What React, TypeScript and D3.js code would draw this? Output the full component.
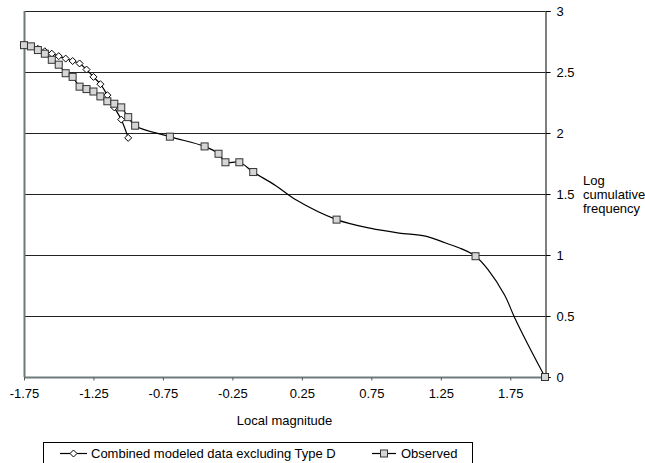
import { useEffect, useRef } from "react"
import * as d3 from "d3"

// Observed (square markers)
const observedMag = [
  -1.75, -1.7, -1.65, -1.6, -1.55, -1.5, -1.45, -1.4, -1.35, -1.3, -1.25, -1.2, -1.15, -1.1, -1.05, -1.0, -0.95,
  -0.7, -0.45, -0.35, -0.3, -0.2, -0.1, 0.5, 1.5, 2.0,
]
const observedFreq = [
  2.72, 2.71, 2.68, 2.65, 2.6, 2.56, 2.49, 2.46, 2.38, 2.36, 2.34, 2.3, 2.26, 2.24, 2.21, 2.13, 2.06, 1.97, 1.89,
  1.83, 1.76, 1.76, 1.68, 1.29, 0.99, 0,
]

// extra unmarked vertices of the smoothed observed line
const traceMag = [0.06, 0.21, 0.74, 0.95, 1.14, 1.28, 1.4, 1.59, 1.71, 1.78, 1.88]
const traceFreq = [1.57, 1.45, 1.22, 1.18, 1.155, 1.1, 1.05, 0.88, 0.67, 0.49, 0.26]

// Combined modeled data excluding Type D (diamond markers)
const modeledMag = [-1.75, -1.7, -1.65, -1.6, -1.55, -1.5, -1.45, -1.4, -1.35, -1.3, -1.25, -1.2, -1.15, -1.1, -1.05, -1.0]
const modeledFreq = [2.72, 2.71, 2.69, 2.67, 2.65, 2.63, 2.61, 2.59, 2.57, 2.52, 2.46, 2.4, 2.31, 2.21, 2.11, 1.96]

const xTicks = [-1.75, -1.25, -0.75, -0.25, 0.25, 0.75, 1.25, 1.75]
const yTicks = [0, 0.5, 1, 1.5, 2, 2.5, 3]
const yTitle = ["Log", "cumulative", "frequency"]
const seriesNames = ["Combined modeled data excluding Type D", "Observed"]

const font = "'Liberation Sans', Arial, sans-serif"

export default function App() {
  const svgRef = useRef<SVGSVGElement>(null)

  useEffect(() => {
    if (!svgRef.current) return
    const svg = d3.select(svgRef.current)
    svg.selectAll("*").remove()

    const left = 24
    const right = 545
    const top = 11
    const bottom = 377

    const x = d3.scaleLinear().domain([-1.75, 2.0]).range([left, right])
    const y = d3.scaleLinear().domain([0, 3]).range([bottom, top])

    // gridlines
    svg
      .append("g")
      .selectAll("line")
      .data(yTicks.filter((d) => d > 0))
      .enter()
      .append("line")
      .attr("x1", left)
      .attr("x2", right)
      .attr("y1", (d) => Math.round(y(d)) + 0.5)
      .attr("y2", (d) => Math.round(y(d)) + 0.5)
      .attr("stroke", "#222")
      .attr("stroke-width", 1)

    // left axis line (gray)
    svg
      .append("line")
      .attr("x1", left + 0.5)
      .attr("x2", left + 0.5)
      .attr("y1", top)
      .attr("y2", bottom)
      .attr("stroke", "#6f7b7b")
      .attr("stroke-width", 2)

    // bottom axis
    const xAxis = svg
      .append("g")
      .attr("transform", `translate(0,${bottom + 0.5})`)
      .call(d3.axisBottom(x).tickValues(xTicks).tickSize(3).tickFormat((d) => String(d)))
    xAxis.select(".domain").attr("stroke", "#6f7b7b").attr("stroke-width", 2).attr("d", `M${left},0H${right}`)
    xAxis.selectAll(".tick line").attr("stroke", "#555")
    xAxis
      .selectAll("text")
      .attr("dy", "1.1em")
      .style("font-size", "13px")
      .style("font-family", font)
      .attr("fill", "#000")

    // right axis
    const yAxis = svg
      .append("g")
      .attr("transform", `translate(${right + 0.5},0)`)
      .call(d3.axisRight(y).tickValues(yTicks).tickSize(5).tickPadding(6).tickFormat((d) => String(d)))
    yAxis.select(".domain").attr("stroke", "#000")
    yAxis.selectAll(".tick line").attr("stroke", "#000")
    yAxis
      .selectAll("text")
      .style("font-size", "13px")
      .style("font-family", font)
      .attr("fill", "#000")

    // axis titles
    svg
      .append("text")
      .attr("x", (left + right) / 2)
      .attr("y", 425)
      .attr("text-anchor", "middle")
      .style("font-size", "13px")
      .style("font-family", font)
      .text("Local magnitude")

    svg
      .append("text")
      .attr("y", y(1.5) + 5 - 14)
      .style("font-size", "13px")
      .style("font-family", font)
      .selectAll("tspan")
      .data(yTitle)
      .enter()
      .append("tspan")
      .attr("x", 583)
      .attr("dy", (d, i) => (i === 0 ? 0 : 14))
      .text((d) => d)

    // observed line (smoothed)
    const obsPts = observedMag.map((m, i) => [m, observedFreq[i]] as [number, number])
    const tracePts = traceMag.map((m, i) => [m, traceFreq[i]] as [number, number])
    const obsLine = [...obsPts, ...tracePts].sort((a, b) => a[0] - b[0])
    const line = d3
      .line<[number, number]>()
      .x((d) => x(d[0]))
      .y((d) => y(d[1]))
      .curve(d3.curveCatmullRom.alpha(0.5))

    svg
      .append("path")
      .datum(obsLine)
      .attr("fill", "none")
      .attr("stroke", "#000")
      .attr("stroke-width", 1.2)
      .attr("d", line)

    const modPts = modeledMag.map((m, i) => [m, modeledFreq[i]] as [number, number])
    svg
      .append("path")
      .datum(modPts)
      .attr("fill", "none")
      .attr("stroke", "#000")
      .attr("stroke-width", 1.2)
      .attr("d", line)

    // modeled diamonds
    const diamond = (cx: number, cy: number, r: number) =>
      `M${cx},${cy - r}L${cx + r},${cy}L${cx},${cy + r}L${cx - r},${cy}Z`
    svg
      .append("g")
      .selectAll("path")
      .data(modPts)
      .enter()
      .append("path")
      .attr("d", (d) => diamond(x(d[0]), y(d[1]), 3.5))
      .attr("fill", "#fff")
      .attr("stroke", "#000")
      .attr("stroke-width", 1)

    // observed squares
    svg
      .append("g")
      .selectAll("rect")
      .data(obsPts)
      .enter()
      .append("rect")
      .attr("x", (d) => x(d[0]) - 3.5)
      .attr("y", (d) => y(d[1]) - 3.5)
      .attr("width", 7)
      .attr("height", 7)
      .attr("fill", "#d6d6d6")
      .attr("stroke", "#333")
      .attr("stroke-width", 1)

    // legend
    const legend = svg.append("g")
    legend
      .append("rect")
      .attr("x", 43.5)
      .attr("y", 442.5)
      .attr("width", 429)
      .attr("height", 40)
      .attr("fill", "#fff")
      .attr("stroke", "#000")
    legend.append("line").attr("x1", 60).attr("x2", 87).attr("y1", 453.5).attr("y2", 453.5).attr("stroke", "#000").attr("stroke-width", 1.2)
    legend.append("path").attr("d", diamond(73.5, 453.5, 3.5)).attr("fill", "#fff").attr("stroke", "#000")
    legend.append("line").attr("x1", 372).attr("x2", 396).attr("y1", 453.5).attr("y2", 453.5).attr("stroke", "#000").attr("stroke-width", 1.2)
    legend
      .append("rect")
      .attr("x", 380.5)
      .attr("y", 450)
      .attr("width", 7)
      .attr("height", 7)
      .attr("fill", "#d6d6d6")
      .attr("stroke", "#333")
    legend
      .selectAll("text")
      .data(seriesNames)
      .enter()
      .append("text")
      .attr("x", (d, i) => (i === 0 ? 91 : 401))
      .attr("y", 458)
      .style("font-size", "13px")
      .style("font-family", font)
      .text((d) => d)
  }, [])

  return (
    <svg
      ref={svgRef}
      width={645}
      height={463}
      style={{ position: "absolute", left: 0, top: 0, background: "#fff" }}
    ></svg>
  )
}
